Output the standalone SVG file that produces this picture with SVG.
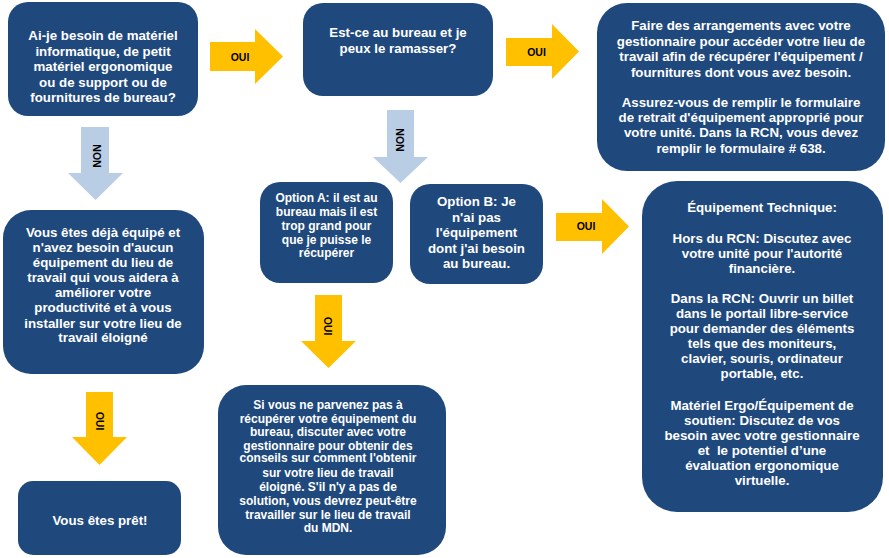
<svg xmlns="http://www.w3.org/2000/svg" width="889" height="558" viewBox="0 0 889 558">
<style>
.box{fill:#1F497D}
.t{font-family:"Liberation Sans",Arial,sans-serif;font-weight:bold;fill:#FFFFFF;text-anchor:middle}
.t13{font-size:13.3px}
.t12{font-size:12px}
.y{fill:#FFC000}
.b{fill:#B9CDE5}
.lbl{font-family:"Liberation Sans",Arial,sans-serif;font-weight:bold;font-size:10.5px;fill:#000000;text-anchor:middle;dominant-baseline:central}
</style>
<rect width="889" height="558" fill="#FFFFFF"/>
<g id="connectors">
  <g id="a1"><polygon class="y" points="210,42 255,42 255,29 283,56.5 255,84 255,71 210,71"/><text class="lbl" x="240" y="57">OUI</text></g>
  <g id="a2"><polygon class="y" points="506,38 552,38 552,24 579,51.5 552,79 552,66 506,66"/><text class="lbl" x="536.5" y="52">OUI</text></g>
  <g id="a3"><polygon class="y" points="556,213 602,213 602,199 629,226.5 602,254 602,241 556,241"/><text class="lbl" x="586" y="226">OUI</text></g>
  <g id="n1"><polygon class="b" points="81,127 109,127 109,173 123,173 95.5,200 68,173 81,173"/><text class="lbl" transform="translate(96.5,156) rotate(90)">NON</text></g>
  <g id="n2"><polygon class="b" points="387,110 414,110 414,157 428,157 400.5,183 373,157 387,157"/><text class="lbl" transform="translate(400,140) rotate(90)">NON</text></g>
  <g id="a4"><polygon class="y" points="86,392 113,392 113,437 127,437 99.5,465 72,437 86,437"/><text class="lbl" transform="translate(100,421) rotate(90)">OUI</text></g>
  <g id="a5"><polygon class="y" points="315,295 342,295 342,341 356,341 328.5,368 301,341 315,341"/><text class="lbl" transform="translate(328,326) rotate(90)">OUI</text></g>
</g>
<g id="q1">
  <rect class="box" x="8" y="2" width="190" height="114" rx="20"/>
  <text class="t t13" x="103"><tspan x="103" y="40">Ai-je besoin de matériel</tspan><tspan x="103" y="55.5">informatique, de petit</tspan><tspan x="103" y="71">matériel ergonomique</tspan><tspan x="103" y="86.5">ou de support ou de</tspan><tspan x="103" y="102">fournitures de bureau?</tspan></text>
</g>
<g id="q2">
  <rect class="box" x="303" y="3" width="190" height="93" rx="20"/>
  <text class="t t13"><tspan x="398" y="37">Est-ce au bureau et je</tspan><tspan x="398" y="53">peux le ramasser?</tspan></text>
</g>
<g id="r1">
  <rect class="box" x="597" y="3" width="288" height="168" rx="30"/>
  <text class="t t13"><tspan x="741" y="30">Faire des arrangements avec votre</tspan><tspan x="741" y="45.5">gestionnaire pour accéder votre lieu de</tspan><tspan x="741" y="61">travail afin de récupérer l'équipement /</tspan><tspan x="741" y="76.5">fournitures dont vous avez besoin.</tspan><tspan x="741" y="106.5">Assurez-vous de remplir le formulaire</tspan><tspan x="741" y="122">de retrait d'équipement approprié pour</tspan><tspan x="741" y="137">votre unité. Dans la RCN, vous devez</tspan><tspan x="741" y="152.5">remplir le formulaire # 638.</tspan></text>
</g>
<g id="optA">
  <rect class="box" x="260" y="182" width="133" height="101" rx="20"/>
  <text class="t t12"><tspan x="326.5" y="202">Option A: il est au</tspan><tspan x="326.5" y="216">bureau mais il est</tspan><tspan x="326.5" y="230">trop grand pour</tspan><tspan x="326.5" y="243.5">que je puisse le</tspan><tspan x="326.5" y="257">récupérer</tspan></text>
</g>
<g id="optB">
  <rect class="box" x="410" y="184" width="133" height="100" rx="20"/>
  <text class="t t13"><tspan x="476.5" y="206">Option B: Je</tspan><tspan x="476.5" y="221.5">n'ai pas</tspan><tspan x="476.5" y="237">l'équipement</tspan><tspan x="476.5" y="252.5">dont j'ai besoin</tspan><tspan x="476.5" y="268">au bureau.</tspan></text>
</g>
<g id="r2">
  <rect class="box" x="642" y="181" width="241" height="331" rx="35"/>
  <text class="t t13"><tspan x="762" y="212">Équipement Technique:</tspan><tspan x="762" y="243">Hors du RCN: Discutez avec</tspan><tspan x="762" y="258">votre unité pour l'autorité</tspan><tspan x="762" y="272.5">financière.</tspan><tspan x="762" y="303">Dans la RCN: Ouvrir un billet</tspan><tspan x="762" y="318">dans le portail libre-service</tspan><tspan x="762" y="333">pour demander des éléments</tspan><tspan x="762" y="348">tels que des moniteurs,</tspan><tspan x="762" y="363">clavier, souris, ordinateur</tspan><tspan x="762" y="378">portable, etc.</tspan><tspan x="762" y="410">Matériel Ergo/Équipement de</tspan><tspan x="762" y="425">soutien: Discutez de vos</tspan><tspan x="762" y="440">besoin avec votre gestionnaire</tspan><tspan x="762" y="455">et &#160;le potentiel d’une</tspan><tspan x="762" y="470">évaluation ergonomique</tspan><tspan x="762" y="485">virtuelle.</tspan></text>
</g>
<g id="n1box">
  <rect class="box" x="3" y="210" width="201" height="164" rx="28"/>
  <text class="t t13"><tspan x="103" y="237">Vous êtes déjà équipé et</tspan><tspan x="103" y="252">n'avez besoin d'aucun</tspan><tspan x="103" y="267">équipement du lieu de</tspan><tspan x="103" y="282">travail qui vous aidera à</tspan><tspan x="103" y="297">améliorer votre</tspan><tspan x="103" y="312">productivité et à vous</tspan><tspan x="103" y="327.5">installer sur votre lieu de</tspan><tspan x="103" y="342">travail éloigné</tspan></text>
</g>
<g id="ready">
  <rect class="box" x="18" y="481" width="163" height="74" rx="15"/>
  <text class="t t13" x="100" y="525">Vous êtes prêt!</text>
</g>
<g id="r3">
  <rect class="box" x="218" y="385" width="228" height="170" rx="28"/>
  <text class="t t12"><tspan x="328" y="409">Si vous ne parvenez pas à</tspan><tspan x="328" y="422.5">récupérer votre équipement du</tspan><tspan x="328" y="436">bureau, discuter avec votre</tspan><tspan x="328" y="449.5">gestionnaire pour obtenir des</tspan><tspan x="328" y="462">conseils sur comment l'obtenir</tspan><tspan x="328" y="477">sur votre lieu de travail</tspan><tspan x="328" y="491">éloigné. S'il n'y a pas de</tspan><tspan x="328" y="505">solution, vous devrez peut-être</tspan><tspan x="328" y="518.5">travailler sur le lieu de travail</tspan><tspan x="328" y="531.5">du MDN.</tspan></text>
</g>
</svg>
